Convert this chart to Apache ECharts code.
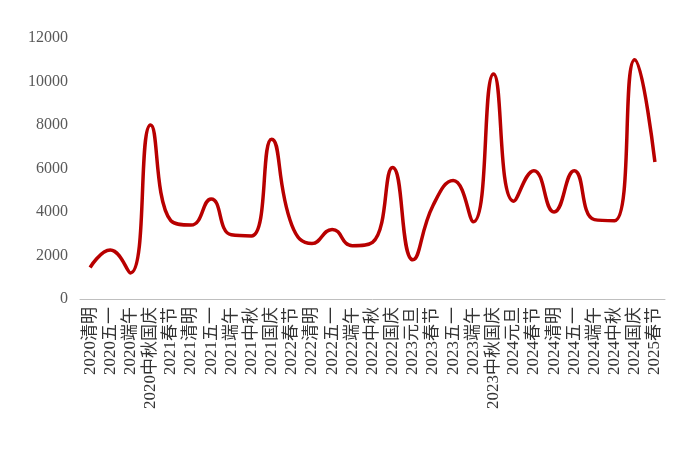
<!DOCTYPE html><html><head><meta charset="utf-8">
<script src="https://cdn.jsdelivr.net/npm/echarts@6/dist/echarts.min.js"></script>
<style>html,body{margin:0;background:#fff}#c{width:700px;height:451px}</style></head><body><div id="c"></div>
<script>
const categories=["2020清明","2020五一","2020端午","2020中秋国庆","2021春节","2021清明","2021五一","2021端午","2021中秋","2021国庆","2022春节","2022清明","2022五一","2022端午","2022中秋","2022国庆","2023元旦","2023春节","2023五一","2023端午","2023中秋国庆","2024元旦","2024春节","2024清明","2024五一","2024端午","2024中秋","2024国庆","2025春节"];
const values=[1450,2250,1200,8000,3600,3400,4600,2950,2900,7350,3400,2550,3200,2450,2600,6050,1800,4300,5450,3550,10350,4500,5900,4000,5900,3650,3600,11000,6300];
const yTicks={min:0,max:12000,interval:2000};
const chart=echarts.init(document.getElementById('c'));
chart.setOption({
 animation:false,
 grid:{left:80,right:35,top:38,bottom:152},
 xAxis:{type:'category',data:categories,boundaryGap:true,
  axisLine:{lineStyle:{color:'#bfbfbf'}},axisTick:{show:false},
  axisLabel:{rotate:90,interval:0,color:'#333',fontSize:17,fontFamily:'Liberation Serif, Noto Sans CJK SC'}},
 yAxis:{type:'value',min:yTicks.min,max:yTicks.max,interval:yTicks.interval,
  splitLine:{show:false},axisLine:{show:false},axisTick:{show:false},
  axisLabel:{color:'#595959',fontSize:16,fontFamily:'Liberation Serif',margin:12,formatter:v=>String(v)}},
 series:[{type:'line',data:values,smooth:0.5,symbol:'none',lineStyle:{color:'#b80000',width:3.5}}]
});
</script></body></html>
